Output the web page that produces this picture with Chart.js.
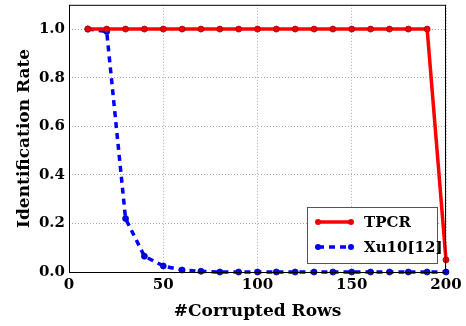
<!DOCTYPE html>
<html>
<head>
<meta charset="utf-8">
<script src="https://cdn.jsdelivr.net/npm/chart.js@4"></script>
<style>
  html, body { margin: 0; padding: 0; background: #fff; }
  #wrap { width: 466px; height: 326px; }
</style>
</head>
<body>
<div id="wrap"><canvas id="rate-chart" width="466" height="326"></canvas></div>
<script>
// number of corrupted rows on the x axis
let corruptedRows = [10, 20, 30, 40, 50, 60, 70, 80, 90, 100, 110, 120, 130, 140, 150, 160, 170, 180, 190, 200];

// identification rate for each method
let tpcrRates = [1, 1, 1, 1, 1, 1, 1, 1, 1, 1, 1, 1, 1, 1, 1, 1, 1, 1, 1, 0.05];
let xu10Rates = [1, 0.99, 0.22, 0.065, 0.025, 0.008, 0.003, 0, 0, 0, 0, 0, 0, 0, 0, 0, 0, 0, 0, 0];

let seriesNames = ["TPCR", "Xu10[12]"];
let xTicks = [0, 50, 100, 150, 200];
let yTicks = [0, 0.2, 0.4, 0.6, 0.8, 1.0];

let serif = "'DejaVu Serif', serif";

function toPoints(values) {
  return corruptedRows.map(function (x, i) {
    return { x: x, y: values[i] };
  });
}

// black frame round the plot area
let frameBox = {
  id: "frameBox",
  afterDraw: function (chart) {
    let ctx = chart.ctx;
    let a = chart.chartArea;
    ctx.save();
    ctx.strokeStyle = "#000";
    ctx.lineWidth = 1;
    ctx.strokeRect(a.left + 0.5, a.top + 0.5, a.right - a.left - 1, a.bottom - a.top);
    ctx.restore();
  },
};

// legend drawn inside the plot, lower right, with a grey border
let insideLegend = {
  id: "insideLegend",
  afterDraw: function (chart) {
    let ctx = chart.ctx;
    let a = chart.chartArea;
    let boxW = 130, boxH = 56;
    let left = a.right - 9 - boxW;
    let top = a.bottom - 9 - boxH;
    ctx.save();
    ctx.fillStyle = "#fff";
    ctx.fillRect(left, top, boxW, boxH);
    ctx.strokeStyle = "#555";
    ctx.lineWidth = 1;
    ctx.strokeRect(left + 0.5, top + 0.5, boxW, boxH);
    chart.data.datasets.forEach(function (ds, i) {
      let y = top + 15 + i * 25;
      let x0 = left + 11, x1 = left + 44;
      ctx.strokeStyle = ds.borderColor;
      ctx.lineWidth = ds.borderWidth;
      ctx.setLineDash(ds.borderDash || []);
      ctx.beginPath();
      ctx.moveTo(x0, y);
      ctx.lineTo(x1, y);
      ctx.stroke();
      ctx.setLineDash([]);
      ctx.fillStyle = ds.pointBackgroundColor;
      [x0, x1].forEach(function (px) {
        ctx.beginPath();
        ctx.arc(px, y, 3, 0, Math.PI * 2);
        ctx.fill();
      });
      ctx.fillStyle = "#000";
      ctx.font = "bold 15px " + serif;
      ctx.textBaseline = "middle";
      ctx.fillText(ds.label, left + 57, y + 1);
    });
    ctx.restore();
  },
};

let context = document.querySelector("#rate-chart").getContext("2d");

let rateChart = new Chart(context, {
  type: "line",
  data: {
    datasets: [
      {
        label: seriesNames[0],
        data: toPoints(tpcrRates),
        borderColor: "#ff0000",
        borderWidth: 3.5,
        pointRadius: 3,
        pointBackgroundColor: "#ee0000",
        pointBorderColor: "#aa0000",
        pointBorderWidth: 0.8,
        tension: 0,
      },
      {
        label: seriesNames[1],
        data: toPoints(xu10Rates),
        borderColor: "#0000ff",
        borderWidth: 3.5,
        borderDash: [6, 5],
        pointRadius: 3,
        pointBackgroundColor: "#0000ee",
        pointBorderColor: "#0000aa",
        pointBorderWidth: 0.8,
        tension: 0,
      },
    ],
  },
  options: {
    responsive: false,
    animation: false,
    clip: false,
    layout: { padding: { top: 3, right: 20, left: 0, bottom: 0 } },
    plugins: {
      legend: { display: false },
      tooltip: { enabled: false },
    },
    scales: {
      x: {
        type: "linear",
        min: 0,
        max: 200,
        afterBuildTicks: function (scale) {
          scale.ticks = xTicks.map(function (v) { return { value: v }; });
        },
        afterFit: function (scale) { scale.height = 54; },
        grid: { color: "#999", lineWidth: 0.8, drawTicks: false },
        border: { display: false, dash: [1, 2] },
        ticks: {
          color: "#000",
          padding: 4,
          maxRotation: 0,
          font: { family: serif, size: 15, weight: "bold" },
        },
        title: {
          display: true,
          text: "#Corrupted Rows",
          color: "#000",
          padding: { top: 0, bottom: 4 },
          font: { family: serif, size: 17, weight: "bold" },
        },
      },
      y: {
        min: 0,
        max: 1.1,
        afterBuildTicks: function (scale) {
          scale.ticks = yTicks.map(function (v) { return { value: v }; });
        },
        afterFit: function (scale) {
          scale.width = 69;
          scale.paddingTop = 0;
          scale.paddingBottom = 0;
        },
        grid: { color: "#999", lineWidth: 0.8, drawTicks: false },
        border: { display: false, dash: [1, 2] },
        ticks: {
          color: "#000",
          padding: 4,
          font: { family: serif, size: 15, weight: "bold" },
          callback: function (v) { return Number(v).toFixed(1); },
        },
        title: {
          display: true,
          text: "Identification Rate",
          color: "#000",
          padding: { top: 14, bottom: 0 },
          font: { family: serif, size: 17, weight: "bold" },
        },
      },
    },
  },
  plugins: [frameBox, insideLegend],
});
</script>
</body>
</html>
